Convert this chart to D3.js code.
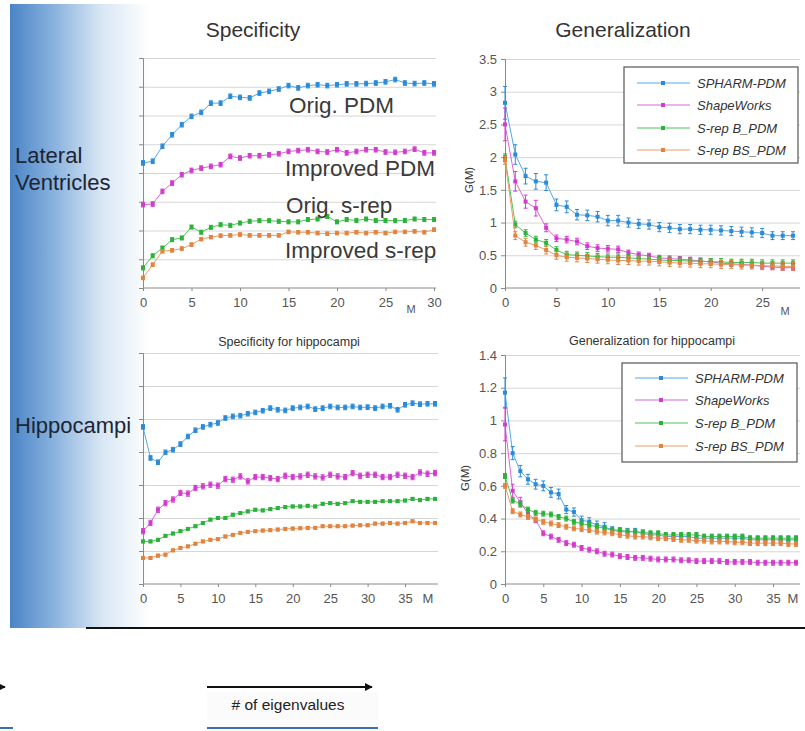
<!DOCTYPE html>
<html lang="en">
<head>
<meta charset="UTF-8"/>
<title>Specificity and Generalization</title>
<script src="https://d3js.org/d3.v7.min.js"></script>
<style>
	body { margin: 0; background: #ffffff; }
	svg { display: block; font-family: "Liberation Sans", Arial, sans-serif; }
</style>
</head>
<body>
<script>
// ---- data (index = M) ----
var seriesNames = ["SPHARM-PDM", "ShapeWorks", "S-rep B_PDM", "S-rep BS_PDM"];
var specLabels = ["Orig. PDM", "Improved PDM", "Orig. s-rep", "Improved s-rep"];

// lateral ventricles, specificity (no y scale in source, arbitrary units)
var lvSpecOrigPdm = [4.35,4.41,4.93,5.33,5.68,5.97,6.11,6.43,6.43,6.67,6.63,6.61,6.78,6.84,6.92,7.04,6.96,7.04,7.07,7.04,7.07,7.10,7.10,7.11,7.13,7.17,7.25,7.13,7.11,7.13,7.10];
var lvSpecImpPdm = [2.90,2.92,3.36,3.65,3.94,4.09,4.17,4.23,4.29,4.58,4.52,4.60,4.60,4.63,4.67,4.75,4.78,4.81,4.75,4.73,4.81,4.70,4.75,4.81,4.81,4.73,4.72,4.75,4.83,4.70,4.70];
var lvSpecOrigSrep = [0.70,1.12,1.39,1.68,1.74,2.12,1.94,2.11,2.20,2.18,2.26,2.32,2.34,2.34,2.32,2.30,2.30,2.38,2.40,2.49,2.30,2.38,2.35,2.40,2.35,2.35,2.34,2.35,2.40,2.38,2.38];
var lvSpecImpSrep = [0.35,0.81,1.28,1.31,1.37,1.51,1.70,1.77,1.82,1.83,1.86,1.83,1.83,1.83,1.83,1.95,1.94,1.94,1.91,1.89,1.91,1.91,1.94,1.91,1.94,1.91,1.95,1.95,1.97,1.94,2.03];
var lvSpecErr = [0.08, 0.08, 0.07, 0.06];

// lateral ventricles, generalization G(M)
var lvGenSpharm = [2.83,2.04,1.71,1.63,1.61,1.27,1.24,1.12,1.11,1.09,1.03,1.03,1.00,0.98,0.97,0.93,0.92,0.90,0.90,0.89,0.89,0.88,0.87,0.86,0.85,0.84,0.80,0.80,0.80];
var lvGenShape = [2.50,1.63,1.32,1.22,0.92,0.76,0.74,0.71,0.64,0.61,0.60,0.59,0.54,0.51,0.49,0.46,0.45,0.44,0.43,0.41,0.40,0.38,0.37,0.36,0.35,0.33,0.32,0.31,0.31];
var lvGenSrepB = [2.00,0.97,0.84,0.74,0.69,0.58,0.51,0.50,0.49,0.48,0.47,0.47,0.46,0.45,0.44,0.43,0.42,0.42,0.41,0.41,0.40,0.40,0.39,0.39,0.39,0.38,0.38,0.38,0.38];
var lvGenSrepBS = [1.95,0.80,0.70,0.65,0.58,0.50,0.47,0.46,0.45,0.44,0.43,0.42,0.42,0.41,0.41,0.40,0.39,0.38,0.38,0.37,0.37,0.36,0.36,0.35,0.35,0.34,0.34,0.33,0.33];
var lvGenSpharmErr = [0.25,0.15,0.12,0.12,0.12,0.09,0.09,0.08,0.08,0.08,0.08,0.08,0.07,0.07,0.07,0.07,0.07,0.07,0.07,0.07,0.07,0.07,0.07,0.07,0.07,0.07,0.06,0.06,0.06];
var lvGenShapeErr = [0.25,0.15,0.10,0.12,0.06,0.05,0.05,0.05,0.05,0.05,0.05,0.05,0.04,0.04,0.04,0.04,0.04,0.04,0.04,0.04,0.04,0.04,0.04,0.04,0.04,0.04,0.04,0.04,0.04];
var lvGenErr = [lvGenSpharmErr, lvGenShapeErr, 0.05, 0.06];

// hippocampi, specificity
var hcSpecOrigPdm = [4.76,3.82,3.69,3.99,4.07,4.24,4.47,4.66,4.76,4.83,4.88,5.03,5.08,5.10,5.16,5.20,5.25,5.33,5.28,5.26,5.33,5.35,5.38,5.30,5.33,5.38,5.35,5.35,5.38,5.35,5.36,5.33,5.38,5.40,5.28,5.43,5.48,5.45,5.46,5.46];
var hcSpecImpPdm = [1.60,1.85,2.25,2.45,2.56,2.76,2.74,2.91,2.96,3.01,2.98,3.18,3.16,3.26,3.11,3.24,3.24,3.21,3.18,3.28,3.24,3.26,3.31,3.26,3.23,3.31,3.26,3.24,3.36,3.28,3.31,3.31,3.24,3.24,3.31,3.28,3.24,3.38,3.34,3.36];
var hcSpecOrigSrep = [1.29,1.29,1.34,1.46,1.53,1.60,1.67,1.75,1.85,1.95,2.00,2.00,2.10,2.15,2.20,2.25,2.23,2.27,2.30,2.33,2.35,2.35,2.37,2.35,2.43,2.45,2.43,2.45,2.51,2.49,2.49,2.49,2.51,2.51,2.51,2.53,2.58,2.54,2.58,2.58];
var hcSpecImpSrep = [0.79,0.79,0.86,0.89,1.02,1.09,1.14,1.22,1.29,1.34,1.36,1.44,1.49,1.55,1.58,1.60,1.62,1.63,1.65,1.67,1.68,1.69,1.70,1.70,1.75,1.75,1.75,1.75,1.77,1.78,1.78,1.83,1.83,1.85,1.83,1.85,1.90,1.85,1.85,1.85];
var hcSpecErr = [0.07, 0.08, 0.04, 0.04];

// hippocampi, generalization G(M)
var hcGenSpharm = [1.17,0.80,0.69,0.64,0.61,0.60,0.56,0.55,0.455,0.44,0.39,0.38,0.36,0.35,0.33,0.32,0.32,0.32,0.31,0.30,0.30,0.29,0.29,0.29,0.29,0.28,0.28,0.28,0.28,0.28,0.28,0.28,0.27,0.27,0.27,0.27,0.27,0.27,0.27];
var hcGenShape = [0.975,0.57,0.50,0.43,0.39,0.31,0.29,0.27,0.25,0.24,0.22,0.21,0.20,0.185,0.18,0.17,0.165,0.16,0.16,0.155,0.15,0.15,0.15,0.145,0.145,0.14,0.14,0.14,0.14,0.135,0.135,0.135,0.135,0.13,0.13,0.13,0.13,0.13,0.13];
var hcGenSrepB = [0.66,0.51,0.49,0.455,0.435,0.43,0.425,0.41,0.40,0.38,0.37,0.36,0.35,0.34,0.33,0.33,0.32,0.32,0.315,0.31,0.31,0.30,0.30,0.30,0.30,0.30,0.29,0.29,0.29,0.29,0.29,0.29,0.28,0.28,0.28,0.28,0.28,0.28,0.28];
var hcGenSrepBS = [0.60,0.445,0.425,0.41,0.395,0.38,0.37,0.36,0.35,0.34,0.335,0.33,0.32,0.315,0.31,0.30,0.295,0.29,0.29,0.285,0.28,0.28,0.275,0.27,0.27,0.265,0.265,0.26,0.26,0.26,0.255,0.255,0.25,0.25,0.25,0.25,0.25,0.245,0.245];
var hcGenSpharmErr = [0.09,0.04,0.035,0.03,0.03,0.03,0.03,0.03,0.025,0.025,0.025,0.025,0.025,0.025,0.02,0.02,0.02,0.02,0.02,0.02,0.02,0.02,0.02,0.02,0.02,0.02,0.02,0.02,0.02,0.02,0.02,0.02,0.02,0.02,0.02,0.02,0.02,0.02,0.02];
var hcGenShapeErr = [0.10,0.04,0.03,0.02,0.015,0.015,0.015,0.015,0.015,0.015,0.015,0.015,0.015,0.015,0.015,0.015,0.015,0.015,0.015,0.015,0.015,0.015,0.015,0.015,0.015,0.015,0.015,0.015,0.015,0.015,0.015,0.015,0.015,0.015,0.015,0.015,0.015,0.015,0.015];
var hcGenErr = [hcGenSpharmErr, hcGenShapeErr, 0.015, 0.015];

// tick labels
var lvSpecXTicks = [0, 5, 10, 15, 20, 25, 30];
var lvGenXTicks = [0, 5, 10, 15, 20, 25];
var hcXTicks = [0, 5, 10, 15, 20, 25, 30, 35];
var lvGenYTicks = [0, 0.5, 1, 1.5, 2, 2.5, 3, 3.5];
var hcGenYTicks = [0, 0.2, 0.4, 0.6, 0.8, 1, 1.2, 1.4];

var markColors = ["#2b8bd8", "#d13ccd", "#2cb23a", "#e2843f"];
var lineColors = ["#55a8e6", "#d966d5", "#4fc35a", "#eb9c68"];

var w = 805;
var h = 731;

var svg = d3.select("body")
			.append("svg")
			.attr("width", w)
			.attr("height", h);

// left blue fade band
var defs = svg.append("defs");
var grad = defs.append("linearGradient")
			.attr("id", "band")
			.attr("x1", "0").attr("x2", "1").attr("y1", "0").attr("y2", "0");
grad.append("stop").attr("offset", "0").attr("stop-color", "#4a84c6");
grad.append("stop").attr("offset", "0.3").attr("stop-color", "#86b0dd");
grad.append("stop").attr("offset", "0.65").attr("stop-color", "#d8e6f4");
grad.append("stop").attr("offset", "1").attr("stop-color", "#ffffff");

defs.append("marker")
	.attr("id", "arrow")
	.attr("viewBox", "0 0 10 10")
	.attr("refX", 9).attr("refY", 5)
	.attr("markerWidth", 4).attr("markerHeight", 4)
	.attr("orient", "auto")
	.append("path")
	.attr("d", "M0,0 L10,5 L0,10 z")
	.attr("fill", "#111");

svg.append("rect")
	.attr("x", 10).attr("y", 4)
	.attr("width", 140).attr("height", 624)
	.attr("fill", "url(#band)");

// draws one of the four small charts
function drawPanel(p) {
	var xScale = d3.scaleLinear().domain([0, p.xMax]).range([p.left, p.right]);
	var yScale = d3.scaleLinear().domain([0, p.yMax]).range([p.bottom, p.top]);
	var g = svg.append("g");

	// gridlines
	g.append("g")
		.attr("transform", "translate(" + p.left + ",0)")
		.call(d3.axisLeft(yScale).tickValues(p.grid).tickSize(-(p.gridEnd - p.left)).tickFormat(""))
		.call(function(s) {
			s.select(".domain").remove();
			s.selectAll("line").attr("stroke", "#d6d6d6");
		});

	// y axis
	var yAxis = d3.axisLeft(yScale)
				.tickValues(p.yTicks)
				.tickSize(4)
				.tickPadding(4)
				.tickFormat(p.yLabels ? d3.format("") : "");
	g.append("g")
		.attr("transform", "translate(" + p.left + ",0)")
		.call(yAxis)
		.call(function(s) {
			s.select(".domain").attr("stroke", "#8a8a8a");
			s.selectAll("line").attr("stroke", "#8a8a8a");
			s.selectAll("text").attr("font-size", "13px").attr("fill", "#555")
				.attr("font-family", "Liberation Sans, Arial, sans-serif");
		});

	// x axis
	var xAxis = d3.axisBottom(xScale)
				.tickValues(p.xTicks)
				.tickSize(3)
				.tickPadding(7)
				.tickFormat(d3.format("d"));
	g.append("g")
		.attr("transform", "translate(0," + p.bottom + ")")
		.call(xAxis)
		.call(function(s) {
			s.select(".domain").attr("d", "M" + p.left + ",0H" + p.gridEnd).attr("stroke", "#8a8a8a");
			s.selectAll("line").attr("stroke", "#8a8a8a");
			s.selectAll("text").attr("font-size", "13px").attr("fill", "#555")
				.attr("font-family", "Liberation Sans, Arial, sans-serif");
		});

	g.append("text")
		.attr("x", p.mX).attr("y", p.mY)
		.attr("text-anchor", "middle")
		.attr("font-size", p.mSize)
		.attr("fill", "#555")
		.text("M");

	// series: line, error bars, markers
	var line = d3.line()
				.x(function(d, i) { return xScale(i); })
				.y(function(d) { return yScale(d); });

	p.series.forEach(function(data, k) {
		var e = p.err[k];
		var errAt = function(i) { return Array.isArray(e) ? e[i] : e; };
		var sg = g.append("g");

		sg.append("path")
			.datum(data)
			.attr("d", line)
			.attr("fill", "none")
			.attr("stroke", lineColors[k])
			.attr("stroke-width", 1);

		var bars = sg.selectAll(".eb")
			.data(data)
			.enter()
			.append("g");
		bars.append("line")
			.attr("x1", function(d, i) { return xScale(i); })
			.attr("x2", function(d, i) { return xScale(i); })
			.attr("y1", function(d, i) { return yScale(d - errAt(i)); })
			.attr("y2", function(d, i) { return yScale(d + errAt(i)); })
			.attr("stroke", markColors[k]).attr("stroke-width", 1);
		[-1, 1].forEach(function(sgn) {
			bars.append("line")
				.attr("x1", function(d, i) { return xScale(i) - 2; })
				.attr("x2", function(d, i) { return xScale(i) + 2; })
				.attr("y1", function(d, i) { return yScale(d + sgn * errAt(i)); })
				.attr("y2", function(d, i) { return yScale(d + sgn * errAt(i)); })
				.attr("stroke", markColors[k]).attr("stroke-width", 1);
		});

		sg.selectAll("rect")
			.data(data)
			.enter()
			.append("rect")
			.attr("x", function(d, i) { return xScale(i) - 2; })
			.attr("y", function(d) { return yScale(d) - 2; })
			.attr("width", 4)
			.attr("height", 4)
			.attr("fill", markColors[k]);
	});

	// legend
	if (p.legend) {
		var L = p.legend;
		g.append("rect")
			.attr("x", L.x).attr("y", L.y)
			.attr("width", L.w).attr("height", L.h)
			.attr("fill", "#fff")
			.attr("stroke", "#555")
			.attr("stroke-width", 1.2);
		seriesNames.forEach(function(name, k) {
			var ry = L.rows[k];
			g.append("line")
				.attr("x1", L.x + 13).attr("x2", L.x + 66)
				.attr("y1", ry).attr("y2", ry)
				.attr("stroke", lineColors[k]);
			g.append("rect")
				.attr("x", L.x + 37).attr("y", ry - 2)
				.attr("width", 4).attr("height", 4)
				.attr("fill", markColors[k]);
			g.append("text")
				.attr("x", L.x + 73).attr("y", ry + 4.5)
				.attr("font-size", "13px")
				.attr("font-style", "italic")
				.attr("fill", "#333")
				.text(name);
		});
	}

	if (p.yTitle) {
		g.append("text")
			.attr("transform", "translate(" + p.yTitle[0] + "," + p.yTitle[1] + ") rotate(-90)")
			.attr("text-anchor", "middle")
			.attr("font-size", "11.5px")
			.attr("fill", "#333")
			.text("G(M)");
	}

	if (p.title) {
		g.append("text")
			.attr("x", p.title[0]).attr("y", p.title[1])
			.attr("text-anchor", "middle")
			.attr("font-size", "12.5px")
			.attr("fill", "#333")
			.text(p.title[2]);
	}
}

// top left: lateral ventricles specificity
drawPanel({
	left: 143, right: 434, top: 58, bottom: 288, gridEnd: 436,
	xMax: 30, yMax: 8,
	grid: [1, 2, 3, 4, 5, 6, 7, 8], yTicks: [0, 1, 2, 3, 4, 5, 6, 7, 8], yLabels: false,
	xTicks: lvSpecXTicks, mX: 411, mY: 313, mSize: "11px",
	series: [lvSpecOrigPdm, lvSpecImpPdm, lvSpecOrigSrep, lvSpecImpSrep],
	err: lvSpecErr
});

// top right: lateral ventricles generalization
drawPanel({
	left: 505, right: 793, top: 59, bottom: 288, gridEnd: 800,
	xMax: 28, yMax: 3.5,
	grid: lvGenYTicks.slice(1), yTicks: lvGenYTicks, yLabels: true,
	xTicks: lvGenXTicks, mX: 785, mY: 315, mSize: "11px",
	series: [lvGenSpharm, lvGenShape, lvGenSrepB, lvGenSrepBS],
	err: lvGenErr,
	legend: { x: 624, y: 67, w: 174, h: 96, rows: [83, 105, 128, 150] },
	yTitle: [473, 180]
});

// bottom left: hippocampi specificity
drawPanel({
	left: 143, right: 435, top: 353, bottom: 584, gridEnd: 438,
	xMax: 39, yMax: 7,
	grid: [1, 2, 3, 4, 5, 6, 7], yTicks: [0, 1, 2, 3, 4, 5, 6, 7], yLabels: false,
	xTicks: hcXTicks, mX: 428, mY: 603, mSize: "13px",
	series: [hcSpecOrigPdm, hcSpecImpPdm, hcSpecOrigSrep, hcSpecImpSrep],
	err: hcSpecErr,
	title: [289, 346, "Specificity for hippocampi"]
});

// bottom right: hippocampi generalization
drawPanel({
	left: 505, right: 796, top: 355, bottom: 584, gridEnd: 800,
	xMax: 38, yMax: 1.4,
	grid: hcGenYTicks.slice(1), yTicks: hcGenYTicks, yLabels: true,
	xTicks: hcXTicks, mX: 793, mY: 603, mSize: "13px",
	series: [hcGenSpharm, hcGenShape, hcGenSrepB, hcGenSrepBS],
	err: hcGenErr,
	legend: { x: 622, y: 363, w: 175, h: 99, rows: [378, 400, 423, 446] },
	yTitle: [469, 478],
	title: [652, 345, "Generalization for hippocampi"]
});

// big headings
svg.append("text").attr("x", 253).attr("y", 37).attr("text-anchor", "middle")
	.attr("font-size", "21px").attr("fill", "#333").text("Specificity");
svg.append("text").attr("x", 623).attr("y", 37).attr("text-anchor", "middle")
	.attr("font-size", "21px").attr("fill", "#333").text("Generalization");

// row labels
svg.append("text").attr("x", 15).attr("y", 163)
	.attr("font-size", "22px").attr("fill", "#1c2533").text("Lateral");
svg.append("text").attr("x", 15).attr("y", 190)
	.attr("font-size", "22px").attr("fill", "#1c2533").text("Ventricles");
svg.append("text").attr("x", 15).attr("y", 433)
	.attr("font-size", "22px").attr("fill", "#1c2533").text("Hippocampi");

// series annotations in the top left chart
var specLabelPos = [[289, 113], [285, 176], [286, 213], [285, 258]];
specLabels.forEach(function(t, k) {
	svg.append("text")
		.attr("x", specLabelPos[k][0]).attr("y", specLabelPos[k][1])
		.attr("font-size", "22.5px")
		.attr("fill", "#3a3a3a")
		.text(t);
});

// bottom strip
svg.append("line").attr("x1", 86).attr("x2", 805).attr("y1", 628).attr("y2", 628)
	.attr("stroke", "#111").attr("stroke-width", 2);

svg.append("rect").attr("x", 207).attr("y", 692).attr("width", 171).attr("height", 35)
	.attr("fill", "#fbfbfb");
svg.append("line").attr("x1", 207).attr("x2", 372).attr("y1", 687).attr("y2", 687)
	.attr("stroke", "#111").attr("stroke-width", 2).attr("marker-end", "url(#arrow)");
svg.append("text").attr("x", 288).attr("y", 710).attr("text-anchor", "middle")
	.attr("font-size", "15.5px").attr("fill", "#222").text("# of eigenvalues");
svg.append("line").attr("x1", 207).attr("x2", 378).attr("y1", 728).attr("y2", 728)
	.attr("stroke", "#3d6fb6").attr("stroke-width", 2);

svg.append("line").attr("x1", 0).attr("x2", 5).attr("y1", 687).attr("y2", 687)
	.attr("stroke", "#111").attr("stroke-width", 2).attr("marker-end", "url(#arrow)");
svg.append("line").attr("x1", 0).attr("x2", 13).attr("y1", 728).attr("y2", 728)
	.attr("stroke", "#3d6fb6").attr("stroke-width", 2);
</script>
</body>
</html>
